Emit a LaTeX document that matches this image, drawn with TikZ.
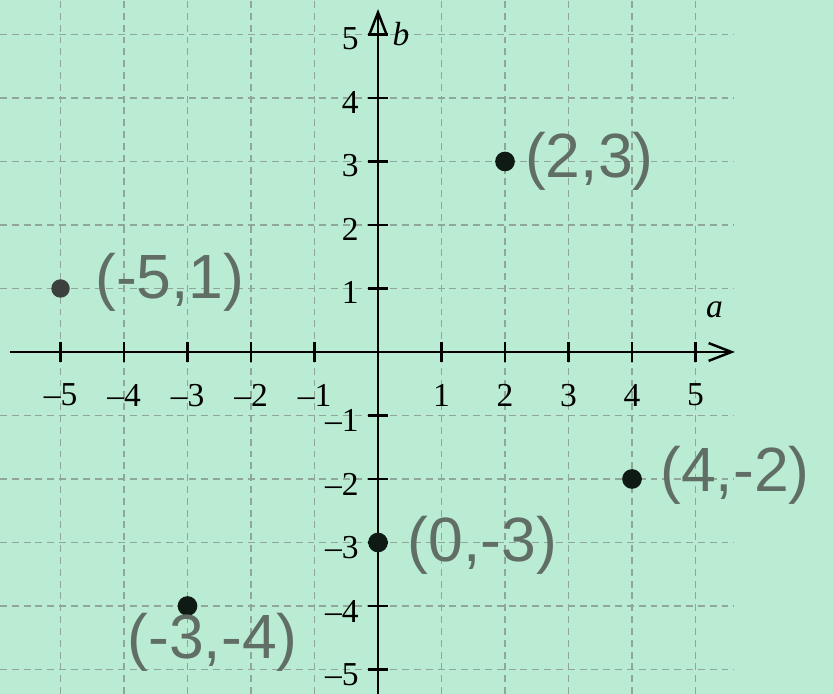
\documentclass[tikz,border=0pt]{standalone}
\usepackage{fontspec}
\setmainfont{Liberation Serif}
\newfontfamily\hand{Liberation Sans}
\usetikzlibrary{arrows.meta}
\definecolor{bg}{RGB}{185,236,211}
\definecolor{gridc}{RGB}{145,166,154}
\definecolor{handc}{RGB}{96,110,102}
\definecolor{dotc}{RGB}{15,26,20}
\definecolor{dotg}{RGB}{60,64,62}
\begin{document}
\begin{tikzpicture}[x=1cm,y=1cm,
  gridline/.style={gridc, line width=0.75pt, dash pattern=on 3.1pt off 2.2pt},
  axisline/.style={black, line width=1.3pt, -{Straight Barb[length=3.6mm,width=2.8mm,line width=1.1pt]}},
  tickmark/.style={black, line width=1.1pt},
  ticklab/.style={font=\fontsize{15}{16}\selectfont, inner sep=0pt},
  hlab/.style={font=\hand\fontsize{28}{32}\selectfont, text=handc, inner sep=0pt},
  dot/.style={circle, fill=dotc, inner sep=0pt, minimum size=0.31cm},
]
\fill[bg] (-5.953,-5.386) rectangle (7.165,5.543);
\useasboundingbox (-5.953,-5.386) rectangle (7.165,5.543);
% grid
\foreach \i in {-5,-4,-3,-2,-1,1,2,3,4,5} {
  \draw[gridline] (\i,-5.386) -- (\i,5.543);
  \draw[gridline] (-5.953,\i) -- (5.6,\i);
}
% axes
\coordinate (xs) at (-5.8,0);
\coordinate (xe) at (5.62,0);
\coordinate (ys) at (0,-5.386);
\coordinate (ye) at (0,5.4);
\draw[axisline] (xs) -- (xe);
\draw[axisline] (ys) -- (ye);
% ticks
\foreach \i in {-5,-4,-3,-2,-1,1,2,3,4,5} {
  \draw[tickmark] (\i,-0.16) -- (\i,0.16);
  \draw[tickmark] (-0.16,\i) -- (0.16,\i);
}
% x tick labels
\foreach \i in {1,2,3,4,5} {
  \node[ticklab] (xl\i) at (\i,-0.68) {\i};
  \node[ticklab, anchor=east] (yl\i) at (-0.3,\i-0.07) {\i};
  \node[ticklab] (xm\i) at (-\i,-0.68) {–\i};
  \node[ticklab, anchor=east] (ym\i) at (-0.3,-\i-0.08) {–\i};
}
\node[ticklab] (alab) at (5.3,0.66) {\textit{a}};
\node[ticklab] (blab) at (0.36,5.0) {\textit{b}};
% points
\node[dot] (p1) at (2,3) {};
\node[dot, fill=dotg, minimum size=0.29cm] (p2) at (-5,1) {};
\node[dot] (p3) at (4,-2) {};
\node[dot] (p4) at (0,-3) {};
\node[dot] (p5) at (-3,-4) {};
% handwritten labels
\node[hlab, anchor=west] (l1) at (2.31,3.0) {(2,3)};
\node[hlab, anchor=west] (l2) at (-4.46,1.1) {(-5,1)};
\node[hlab, anchor=west] (l3) at (4.44,-1.95) {(4,-2)};
\node[hlab, anchor=west] (l4) at (0.46,-3.05) {(0,-3)};
\node[hlab, anchor=west] (l5) at (-3.95,-4.58) {(-3,-4)};
\end{tikzpicture}
\end{document}
